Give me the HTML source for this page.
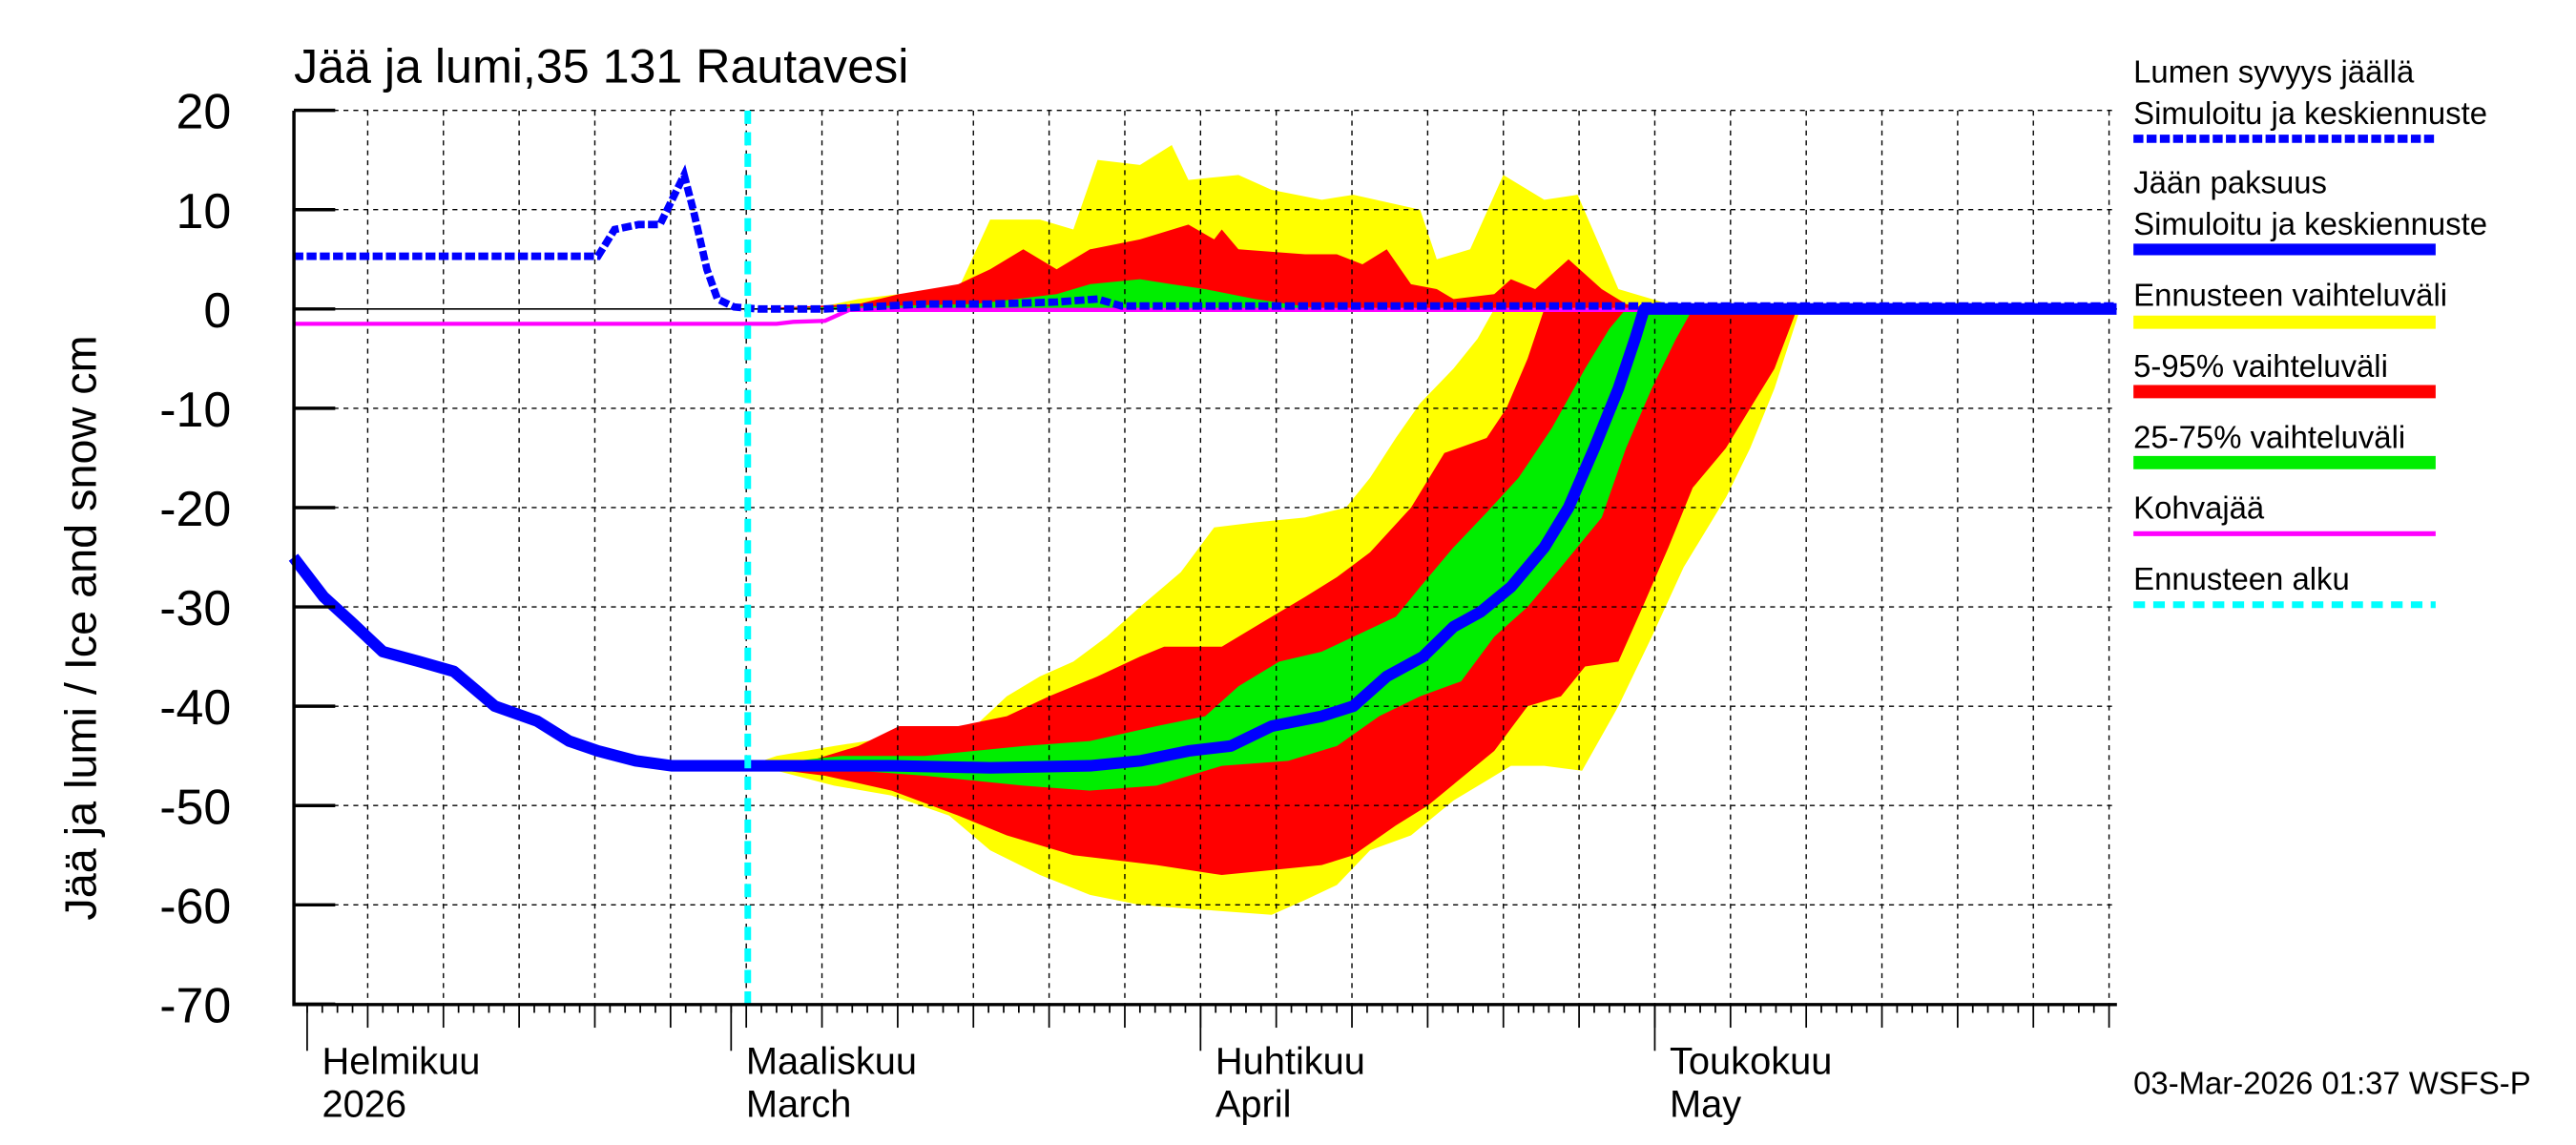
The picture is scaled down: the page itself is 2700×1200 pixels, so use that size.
<!DOCTYPE html>
<html><head><meta charset="utf-8"><style>
html,body{margin:0;padding:0;background:#fff;}
svg{display:block;}
text{font-family:"Liberation Sans Narrow","Liberation Sans",sans-serif;fill:#000;}
</style></head><body>
<svg id="chart" width="2700" height="1200" viewBox="0 0 1560 693" preserveAspectRatio="none" xmlns="http://www.w3.org/2000/svg">
<rect x="0" y="0" width="1560" height="693" fill="#fff"/>
<g id="bands"></g>
<g id="grid"></g>
<g id="series"></g>
<g id="axes"></g>
<text x="178" y="50" font-size="29">Jää ja lumi,35 131 Rautavesi</text>
<text transform="translate(58,380) rotate(-90)" text-anchor="middle" font-size="27" style="font-family:'Liberation Sans',sans-serif">Jää ja lumi / Ice and snow    cm</text>
<g id="legend" font-size="19">
<text x="1292" y="50">Lumen syvyys jäällä</text>
<text x="1292" y="75">Simuloitu ja keskiennuste</text>
<line x1="1292" y1="84" x2="1475" y2="84" stroke="#0000ff" stroke-width="5" stroke-dasharray="6,2"/>
<text x="1292" y="117">Jään paksuus</text>
<text x="1292" y="142">Simuloitu ja keskiennuste</text>
<line x1="1292" y1="151" x2="1475" y2="151" stroke="#0000ff" stroke-width="7"/>
<text x="1292" y="185">Ennusteen vaihteluväli</text>
<line x1="1292" y1="195" x2="1475" y2="195" stroke="#ffff00" stroke-width="8"/>
<text x="1292" y="228">5-95% vaihteluväli</text>
<line x1="1292" y1="237" x2="1475" y2="237" stroke="#ff0000" stroke-width="8"/>
<text x="1292" y="271">25-75% vaihteluväli</text>
<line x1="1292" y1="280" x2="1475" y2="280" stroke="#00ee00" stroke-width="8"/>
<text x="1292" y="314">Kohvajää</text>
<line x1="1292" y1="323" x2="1475" y2="323" stroke="#ff00ff" stroke-width="3"/>
<text x="1292" y="357">Ennusteen alku</text>
<line x1="1292" y1="366" x2="1475" y2="366" stroke="#00ffff" stroke-width="4" stroke-dasharray="7,5"/>
</g>
<text x="1292" y="662" font-size="19">03-Mar-2026 01:37 WSFS-P</text>
</svg>
<script>
// days counted from 1 Feb 2026
const yTicks=[20,10,0,-10,-20,-30,-40,-50,-60,-70];
const monthDays=[0,28,59,89];
const monthLabels=[["Helmikuu","2026"],["Maaliskuu","March"],["Huhtikuu","April"],["Toukokuu","May"]];
const forecastStart=[29.1];
const iceDays=[-0.9,1.1,2.9,5,7.4,9.7,12.4,15.2,17.3,19.2,21.7,24.1,29.1,34.2,38.6,45.1,51.7,55,58.2,61,63.7,67,69.1,71.3,73.7,75.7,77.5,79.5,81.7,83.3,85,86.6,87.7,88.3,119.5];
const iceVals=[-25,-29,-31.5,-34.5,-35.5,-36.5,-40,-41.5,-43.5,-44.5,-45.5,-46,-46,-46,-46,-46.2,-46,-45.5,-44.5,-44,-42,-41,-40,-37,-35,-32,-30.5,-28,-24,-20,-14,-8,-3,0,0];
const snowDays=[-0.9,19.2,20.3,21.9,23.3,24.1,24.9,25.5,26.4,27.1,28.2,29.8,34.2,40.8,45.1,49.5,52.2,53.8,119.5];
const snowVals=[5.3,5.3,8,8.5,8.5,11,13.5,10,4,1,0.2,0,0,0.5,0.5,0.7,1,0.3,0.3];
const slushDays=[-0.9,31.0,32.1,34.2,35.8,119.5];
const slushVals=[-1.5,-1.5,-1.3,-1.2,-0.1,-0.1];
const yIceHiD=[29.1,31.0,34.8,39.1,41.3,44.1,46.2,48.4,50.6,52.8,55,57.7,59.9,62.6,65.9,68.6,70.2,71.9,73.5,75.7,77.3,78.4];
const yIceHiV=[-46,-45,-44,-43,-42,-42,-39,-37,-35.5,-33,-30,-26.5,-22,-21.5,-21,-20,-17,-13,-9.5,-6,-3,0];
const yIceLoD=[29.1,31.0,34.8,38.6,42.4,45.1,48.4,51.7,55,59.3,63.7,65.9,68,70.2,72.9,75.7,77.9,79.5,81.7,84.2,86.6,88.8,90.9,93.7,95.3,96.9,98.6];
const yIceLoV=[-46,-46.5,-48,-49,-51,-54.5,-57,-59,-60,-60.5,-61,-59.5,-58,-54.5,-53,-49.5,-47.5,-46,-46,-46.5,-40,-33,-26,-19,-14,-8,0];
const rIceHiD=[29.1,33.2,36.4,39.1,43.0,46.2,49.0,52.2,55,56.6,60.4,63.7,65.9,68,70.2,72.9,75.1,77.9,79.2,80.6,81.7];
const rIceHiV=[-46,-45.5,-44,-42,-42,-41,-39,-37,-35,-34,-34,-31,-29,-27,-24.5,-20,-14.5,-13,-10,-5,0];
const rIceLoD=[29.1,34.2,38.6,43.0,46.2,50.6,56.1,60.4,63.7,67,69.1,71.9,74.0,76.8,78.4,80.6,82.8,84.4,86.6,88.2,89.9,91.5,93.7,95.3,96.9,98.4];
const rIceLoV=[-46,-47,-48.5,-51,-53,-55,-56,-57,-56.5,-56,-55,-52,-50,-46.5,-44.5,-40,-39,-36,-35.5,-30,-24,-18,-14,-10,-6,0];
const gIceHiD=[29.1,35.3,40.8,47.3,51.7,56.1,59.3,61.5,64.2,67,69.1,71.9,73.5,75.7,77.9,80.0,82.2,84.4,86.0,87.1];
const gIceHiV=[-46,-45,-45,-44,-43.5,-42,-41,-38,-35.5,-34.5,-33,-31,-28,-24,-20.5,-17,-12,-6,-2,0];
const gIceLoD=[29.1,36.4,40.8,47.3,51.7,56.1,60.4,64.8,68,70.8,73.5,76.2,78.4,80.6,82.8,85.5,87.1,88.8,90.4,91.5];
const gIceLoV=[-46,-46.5,-47,-48,-48.5,-48,-46,-45.5,-44,-41,-39,-37.5,-33,-30,-26,-21,-14,-8,-3,0];
const ySnowD=[29.1,34.2,36.4,39.1,43.0,45.1,48.4,50.6,52.2,55,57.1,58.2,61.5,63.7,67,69.1,73.5,74.6,76.8,79.0,81.7,83.9,86.6,88.8,89.9,92.0];
const ySnowV=[0,0.3,1,1.5,2,9,9,8,15,14.5,16.5,13,13.5,12,11,11.5,10,5,6,13.5,11,11.5,2,1,0.5,0];
const rSnowD=[29.1,36.4,39.1,43.0,45.1,47.3,49.5,51.7,55,58.2,59.9,60.4,61.5,65.9,68,69.7,71.3,72.9,74.6,75.7,78.4,79.5,81.1,83.3,85.5,87.1,88.8];
const rSnowV=[0,0.5,1.5,2.5,4,6,4,6,7,8.5,7,8,6,5.5,5.5,4.5,6,2.5,2,1,1.5,3,2,5,2,0.5,0];
const gSnowD=[29.1,44.1,49.5,51.7,55,57.1,59.3,62.6,64.8,67];
const gSnowV=[0,0.5,1.5,2.5,3,2.5,2,1,0.5,0];

const NS='http://www.w3.org/2000/svg';
const X=d=>186+9.17*d, Y=v=>187-6.011*v;
const L=178,R=1282,T=67,B=608;
function mk(tag,attrs,parent){const e=document.createElementNS(NS,tag);for(const k in attrs)e.setAttribute(k,attrs[k]);parent.appendChild(e);return e;}
const gB=document.getElementById('bands'),gG=document.getElementById('grid'),gS=document.getElementById('series'),gA=document.getElementById('axes');
function pts(ds,vs){return ds.map((d,i)=>X(d).toFixed(1)+','+Y(vs[i]).toFixed(1));}
function band(hd,hv,ld,lv,col,name){
  const p=pts(hd,hv).concat(pts(ld,lv).reverse());
  const e=mk('polygon',{points:p.join(' '),fill:col},gB);
  
  
}
const zero=d=>d.map(()=>0);
band(yIceHiD,yIceHiV,yIceLoD,yIceLoV,'#ffff00','band-yellow-ice');
band(ySnowD,ySnowV,ySnowD,zero(ySnowD),'#ffff00','band-yellow-snow');
band(rIceHiD,rIceHiV,rIceLoD,rIceLoV,'#ff0000','band-red-ice');
band(rSnowD,rSnowV,rSnowD,zero(rSnowD),'#ff0000','band-red-snow');
band(gIceHiD,gIceHiV,gIceLoD,gIceLoV,'#00ee00','band-green-ice');
band(gSnowD,gSnowV,gSnowD,zero(gSnowD),'#00ee00','band-green-snow');
// grid
yTicks.forEach(v=>{
  if(v>-70&&v!==0){const e=mk('line',{x1:L,x2:R,y1:Y(v),y2:Y(v),stroke:'#000','stroke-width':0.8,'stroke-dasharray':'3,3'},gG);
  }
});
for(let d=4;X(d)<R;d+=5){
  const e=mk('line',{x1:X(d),x2:X(d),y1:T,y2:B,stroke:'#000','stroke-width':0.8,'stroke-dasharray':'3,3'},gG);
  
}
const z=mk('line',{x1:L,x2:R,y1:Y(0),y2:Y(0),stroke:'#000','stroke-width':1},gG);

// series
function line(ds,vs,attrs,name){const e=mk('polyline',Object.assign({points:pts(ds,vs).join(' '),fill:'none'},attrs),gS);
  }
line(slushDays,slushVals,{stroke:'#ff00ff','stroke-width':2.5},'slush-ice-line');
line(iceDays,iceVals,{stroke:'#0000ff','stroke-width':7,'stroke-linejoin':'round'},'ice-thickness-line');
line(snowDays,snowVals,{stroke:'#0000ff','stroke-width':4.5,'stroke-dasharray':'6,2'},'snow-depth-line');
const fs=mk('line',{x1:X(forecastStart[0]),x2:X(forecastStart[0]),y1:T,y2:B,stroke:'#00ffff','stroke-width':4,'stroke-dasharray':'8,5'},gS);

// axes
const ax=mk('path',{d:`M${L},${T} V${B} H${R}`,stroke:'#000','stroke-width':2,fill:'none'},gA);

yTicks.forEach(v=>{
  const t=mk('line',{x1:L,x2:L+25,y1:Y(v),y2:Y(v),stroke:'#000','stroke-width':2},gA);
  
  const tx=mk('text',{x:L-38,y:Y(v)+11,'text-anchor':'end','font-size':30},gA);tx.textContent=v;
  
});
for(let d=-0;X(d)<R;d++){
  const len=((d+1)%5===0)?14:5;
  const t=mk('line',{x1:X(d),x2:X(d),y1:B,y2:B+len,stroke:'#000','stroke-width':1},gA);
  
}
monthDays.forEach((d,i)=>{
  const t=mk('line',{x1:X(d),x2:X(d),y1:B,y2:B+28,stroke:'#000','stroke-width':1},gA);
  
  const a=mk('text',{x:X(d)+9,y:650,'font-size':23},gA);a.textContent=monthLabels[i][0];
  
  const b=mk('text',{x:X(d)+9,y:676,'font-size':23},gA);b.textContent=monthLabels[i][1];
  
});
</script>
</body></html>
